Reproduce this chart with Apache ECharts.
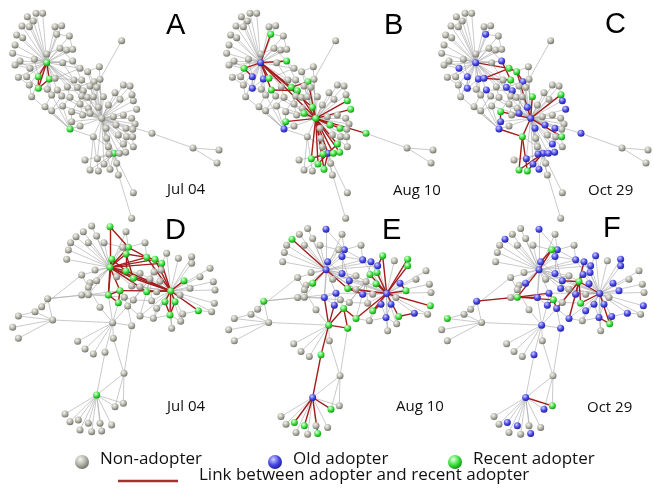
<!DOCTYPE html>
<html>
<head>
<meta charset="utf-8">
<script src="https://cdn.jsdelivr.net/npm/echarts@6.0.0/dist/echarts.min.js"></script>
<style>
  html, body { margin: 0; padding: 0; background: #fff; }
  #chart { width: 654px; height: 491px; }
</style>
</head>
<body>
<div id="chart"></div>
<script>
// panel labels
const panelLetters = ['A', 'B', 'C', 'D', 'E', 'F'];
const panelDates = ['Jul 04', 'Aug 10', 'Oct 29', 'Jul 04', 'Aug 10', 'Oct 29'];

// upper network: node layout (layout units, 3 per pixel)
const topX = [140,108,128,82,100,66,88,50,68,45, 38,60,45,55,80,115,148,115,88,95,
  103,140,165,185,170,208,180,200,218,188, 218,240,298,263,365,222,245,282,300,142,
  172,202,232,250,270,290,155,185,210,245, 262,280,310,135,155,188,215,240,265,295,
  325,305,345,370,390,360,400,410,370,395, 405,340,215,248,270,210,240,318,348,378,
  398,280,320,355,380,398,325,342,377,400, 255,292,312,350,270,295,330,355,400,395,
  456,579,657,651,90,165,370,327,358,396];
const topY = [188,40,40,50,63,78,80,105,113,135, 160,183,195,232,230,230,237,265,255,290,
  178,162,80,77,103,108,145,150,148,188, 183,205,200,215,122,240,240,245,238,268,
  270,260,262,272,258,262,285,288,292,288, 292,290,290,320,332,318,335,312,325,322,
  315,355,278,255,258,298,302,328,345,355, 372,350,365,345,340,387,378,385,375,385,
  388,410,415,405,410,410,440,460,457,440, 480,476,492,490,510,513,508,525,578,655,
  400,444,450,489,205,235,432,462,460,284];
// hub neighbour lists and single links of the upper network
const topHubs = [
  [0, [1,2,3,4,5,6,7,8,9,10,11,12,13,14,15,16,17,18,19,20,21,22,23,24,25,26,27,28,29,30,31,35,39,40,41,42,46,59,61,104,105]],
  [61, [32,33,37,38,44,45,47,48,50,51,52,55,56,57,58,59,60,62,63,64,65,66,67,68,69,70,71,72,73,74,76,77,78,79,80,81,82,83,84,85,86,87,88,91,92,96,99,100,106,107,108,109]],
  [87, [86,88,90,91,92,93,94,95,96,97,98,106,107,108]],
  [75, [19,46,53,54,55,72,76,81]]
];
const topPairs = [[15,17],[16,17],[20,29],[21,26],[26,31],[29,35],[30,36],[32,33],[33,37],[31,33],
  [34,38],[36,44],[35,42],[39,46],[40,47],[41,48],[42,49],[43,50],[44,51],[45,52],[46,53],[47,54],
  [48,55],[49,56],[50,57],[51,58],[53,54],[54,55],[56,73],[57,73],[58,74],[13,18],[18,19],[14,17],
  [15,20],[16,39],[17,39],[24,25],[22,24],[27,28],[25,28],[29,30],[12,104],[11,104],[104,15],
  [105,16],[105,36],[105,31],[40,43],[43,61],[42,37],[36,57],[109,66],[109,64],[63,64],[62,65],
  [86,82],[81,86],[83,89],[84,88],[85,89],[56,72],[81,94],[81,95],[100,101],[101,102],[101,103]];
const topOld = [
  [],
  [0,15,16,17,75,87],
  [0,15,16,17,75,87,104,24,30,105,40,42,43,37,59,74,61,66,67,72,78,79,100,106,91,107,108,88,92,96,77]
];
const topRecent = [
  [0,15,16,17,75,87],
  [104,24,30,105,40,42,43,37,59,74,61,66,67,72,78,79,100,106,91,107,108,88,92,96],
  [31,33,36,52,109,56,81,85,94,95]
];

// lower network: node layout (layout units, 3 per pixel)
const botX = [330,275,330,250,228,265,212,205,200,290, 312,378,385,435,378,335,440,465,485,500,
  535,575,575,378,400,285,245,270,290,265, 245,265,325,360,355,300,350,420,440,470,
  512,552,495,525,510,595,548,515,460,420, 395,338,570,600,630,640,645,635,373,400,
  455,462,420,540,470,383,143,125,105,158, 55,38,55,340,233,255,280,315,372,290,
  370,345,195,210,235,240,265,275,305,300, 335,483,395,480,643,368,450,542];
const botY = [172,48,50,65,80,98,98,120,148,78, 98,65,112,98,132,148,142,148,160,130,
  145,140,160,183,205,180,195,218,212,232, 255,254,255,242,278,292,200,230,245,245,
  243,212,275,275,315,302,312,355,325,318, 347,338,235,200,175,215,240,305,262,270,
  272,186,190,255,295,288,266,290,305,330, 318,352,385,385,394,417,432,427,490,555,
  580,590,612,635,630,660,640,665,663,640, 645,180,228,214,280,112,207,334];
const botHubs = [
  [0, [1,2,3,4,5,6,7,8,9,10,11,12,14,15,16,17,18,23,24,25,26,27,28,29,31,32,33,36,37,38,40,62,92,95]],
  [40, [16,17,18,19,20,21,22,23,24,33,37,38,39,41,42,43,44,45,46,47,48,49,52,53,54,55,56,57,60,61,63,64,91,92,93,94,96,97]],
  [96, [17,24,37,38,49,59,60,61,62,65]],
  [51, [32,34,35,50,65,69,73,74,75,76,77]],
  [79, [77,78,80,81,82,83,84,85,86,87,88,89,90]]
];
const botPairs = [[2,12],[23,36],[23,14],[24,14],[12,16],[14,16],[15,23],[15,32],[32,34],[33,34],
  [32,33],[34,58],[58,59],[59,60],[33,58],[65,58],[65,49],[50,65],[49,48],[48,44],[42,44],[43,44],
  [42,64],[64,48],[44,47],[29,35],[30,31],[31,32],[31,33],[31,58],[27,28],[26,29],[29,30],[12,13],
  [11,12],[13,16],[16,17],[17,18],[18,19],[62,24],[62,36],[92,37],[92,24],[92,38],[95,12],[95,10],
  [95,15],[41,52],[45,57],[45,46],[97,46],[97,44],[66,67],[67,68],[66,69],[68,69],[69,70],[69,71],
  [69,72],[68,70],[66,31],[66,30],[67,26],[73,78],[50,78],[78,80],[78,81]];
const botOld = [
  [],
  [0,2,12,14,15,16,17,18,23,24,32,33,34,38,40,41,42,43,44,45,79],
  [0,2,12,14,15,16,17,18,23,24,32,33,34,38,40,41,42,43,44,45,79,
   4,28,19,21,22,61,91,92,93,52,94,64,46,65,49,51,50,77,66,81,84,86,88]
];
const botRecent = [
  [0,2,12,14,15,16,17,18,23,24,32,33,34,38,40,41,42,43,44,45,79],
  [4,28,19,21,22,61,91,92,93,52,94,64,46,65,49,51,50,77,66,81,84,86,88],
  [95,96,31,58,60,97,70,80]
];

function ball(c0, c1, c2) {
  return { type: 'radial', x: 0.38, y: 0.32, r: 0.72,
    colorStops: [{ offset: 0, color: c0 }, { offset: 0.55, color: c1 }, { offset: 1, color: c2 }] };
}
const fills = {
  non: ball('#f6f6f0', '#b2b2a8', '#6c6c62'),
  old: ball('#d0d0ff', '#4a4ae6', '#1c1c96'),
  recent: ball('#e6ffe6', '#3ee03e', '#108c10')
};
const grayLine = { color: '#a6a6a6', width: 0.6, opacity: 1, curveness: 0 };
const redLine = { color: '#a41c1c', width: 1.4, opacity: 1, curveness: 0 };

function buildLinks(hubs, pairs) {
  const seen = new Set(), out = [];
  const add = (a, b) => {
    const k = Math.min(a, b) + '-' + Math.max(a, b);
    if (a === b || seen.has(k)) return;
    seen.add(k); out.push([a, b]);
  };
  hubs.forEach(([h, list]) => list.forEach(n => add(h, n)));
  pairs.forEach(([a, b]) => add(a, b));
  return out;
}
const topLinks = buildLinks(topHubs, topPairs);
const botLinks = buildLinks(botHubs, botPairs);

const panels = [
  { left: 0, top: 0, h: 220, xs: topX, ys: topY, links: topLinks, old: topOld[0], rec: topRecent[0] },
  { left: 214, top: 0, h: 220, xs: topX, ys: topY, links: topLinks, old: topOld[1], rec: topRecent[1] },
  { left: 429, top: 0, h: 220, xs: topX, ys: topY, links: topLinks, old: topOld[2], rec: topRecent[2] },
  { left: 0, top: 210, h: 230, xs: botX, ys: botY, links: botLinks, old: botOld[0], rec: botRecent[0] },
  { left: 216, top: 212.5, h: 230, xs: botX, ys: botY, links: botLinks, old: botOld[1], rec: botRecent[1] },
  { left: 429, top: 212.5, h: 230, xs: botX, ys: botY, links: botLinks, old: botOld[2], rec: botRecent[2] }
];

const grids = [], xAxes = [], yAxes = [], series = [];
panels.forEach((p, i) => {
  grids.push({ left: p.left, top: p.top, width: 220, height: p.h });
  xAxes.push({ gridIndex: i, type: 'value', min: 0, max: 660, show: false });
  yAxes.push({ gridIndex: i, type: 'value', min: 0, max: p.h * 3, inverse: true, show: false });
  const oldSet = new Set(p.old), recSet = new Set(p.rec);
  const status = n => recSet.has(n) ? 'recent' : (oldSet.has(n) ? 'old' : 'non');
  const data = p.xs.map((x, n) => ({ value: [x, p.ys[n]], itemStyle: { color: fills[status(n)] } }));
  const gray = [], red = [];
  p.links.forEach(([a, b]) => {
    const sa = status(a), sb = status(b);
    const isRed = (sa === 'recent' && sb !== 'non') || (sb === 'recent' && sa !== 'non');
    (isRed ? red : gray).push({ source: a, target: b, lineStyle: isRed ? redLine : grayLine });
  });
  series.push({
    type: 'graph',
    coordinateSystem: 'cartesian2d',
    xAxisIndex: i,
    yAxisIndex: i,
    symbol: 'circle',
    symbolSize: 7,
    data: data,
    links: gray.concat(red),
    label: { show: false },
    emphasis: { disabled: true },
    silent: true
  });
});

const letterPos = [[176, 27], [394, 27], [615, 26], [175, 232], [392, 232], [613, 230]];
const datePos = [[167, 191], [393, 192], [588, 192], [167, 408], [396, 408], [587, 409]];
const graphic = [];
panelLetters.forEach((t, i) => {
  graphic.push({ type: 'text', left: letterPos[i][0] - 10, top: letterPos[i][1] - 16,
    style: { text: t, font: '29px "Liberation Sans", Arial, sans-serif', fill: '#000' } });
  graphic.push({ type: 'text', left: datePos[i][0], top: datePos[i][1] - 9,
    style: { text: panelDates[i], font: '15px "Open Sans", sans-serif', fill: '#111' } });
});

// legend
const legendItems = [['non', 'Non-adopter', 82], ['old', 'Old adopter', 275], ['recent', 'Recent adopter', 455]];
legendItems.forEach(([k, label, cx]) => {
  graphic.push({ type: 'circle', shape: { cx: cx, cy: 462, r: 7 }, style: { fill: fills[k] } });
  graphic.push({ type: 'text', left: cx + 18, top: 451,
    style: { text: label, font: '17px "Open Sans", sans-serif', fill: '#111' } });
});
graphic.push({ type: 'line', shape: { x1: 118, y1: 481, x2: 178, y2: 481 },
  style: { stroke: '#a83030', lineWidth: 2.5 } });
graphic.push({ type: 'text', left: 199, top: 467,
  style: { text: 'Link between adopter and recent adopter', font: '17px "Open Sans", sans-serif', fill: '#111' } });

const chart = echarts.init(document.getElementById('chart'), null, { renderer: 'canvas' });
chart.setOption({
  animation: false,
  backgroundColor: '#fff',
  grid: grids,
  xAxis: xAxes,
  yAxis: yAxes,
  series: series,
  graphic: graphic
});
</script>
</body>
</html>
